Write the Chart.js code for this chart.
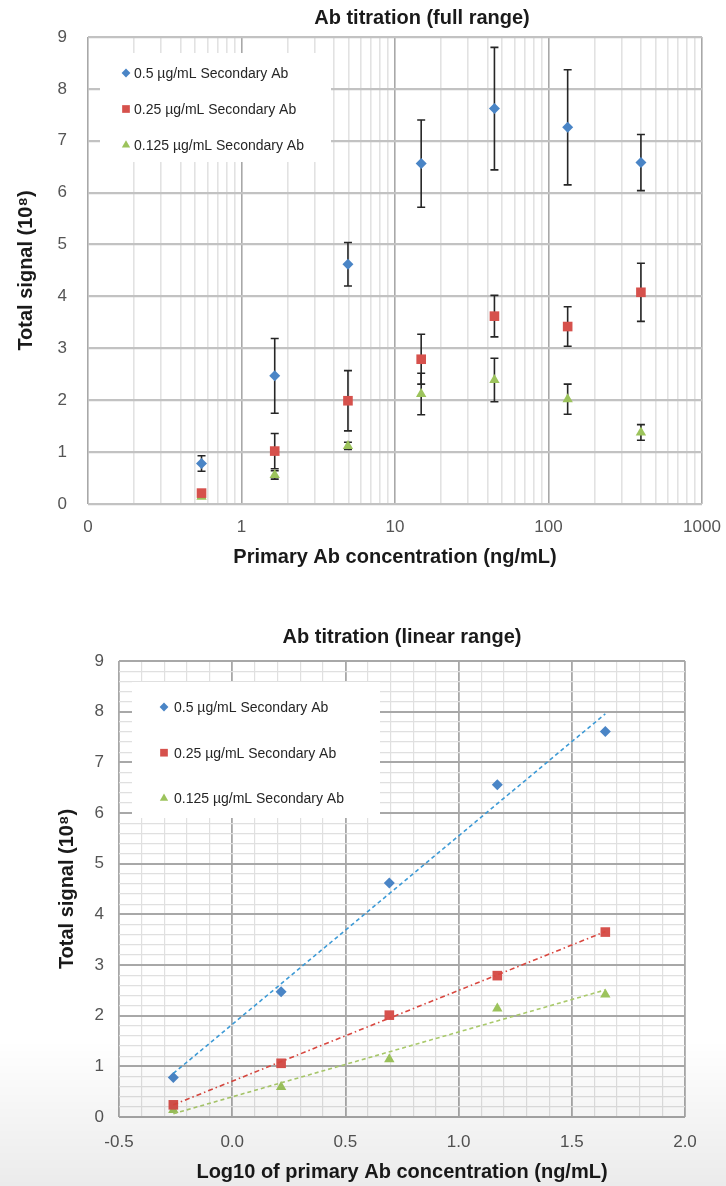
<!DOCTYPE html>
<html>
<head>
<meta charset="utf-8">
<script src="https://cdn.jsdelivr.net/npm/chart.js"></script>
<style>
  html, body { margin: 0; padding: 0; background: #fff; }
  body { width: 726px; height: 1186px; position: relative; overflow: hidden; }
  canvas { position: absolute; left: 0; }
  #full { top: 0; }
  #linear { top: 600px; }
  #shade { position: absolute; left: 0; top: 0; width: 726px; height: 1186px; pointer-events: none;
    background: linear-gradient(to bottom, rgba(0,0,0,0) 0, rgba(0,0,0,0) 1040px, rgba(0,0,0,0.08) 1186px); }
</style>
</head>
<body>
<canvas id="full" width="726" height="580"></canvas>
<canvas id="linear" width="726" height="586"></canvas>
<div id="shade"></div>
<script>
// full range data (x in ng/mL, y in 10^8)
const concentrations = [0.549, 1.646, 4.938, 14.81, 44.44, 133.3, 400];
const signal05 = [0.78, 2.47, 4.62, 6.56, 7.62, 7.26, 6.58];
const error05 = [0.15, 0.72, 0.42, 0.84, 1.18, 1.11, 0.54];
const signal025 = [0.21, 1.02, 1.99, 2.79, 3.62, 3.42, 4.08];
const error025 = [0.05, 0.34, 0.58, 0.48, 0.40, 0.38, 0.56];
const signal0125 = [0.14, 0.56, 1.12, 2.12, 2.39, 2.02, 1.38];
const error0125 = [0.03, 0.08, 0.07, 0.40, 0.42, 0.29, 0.15];

// linear range data (x = log10 of concentration)
const logConc = [-0.26, 0.216, 0.694, 1.171, 1.648];
const linear05 = [0.78, 2.47, 4.62, 6.56, 7.61];
const linear025 = [0.24, 1.06, 2.01, 2.79, 3.65];
const linear0125 = [0.14, 0.59, 1.14, 2.14, 2.42];

const seriesNames = ['0.5 µg/mL Secondary Ab', '0.25 µg/mL Secondary Ab', '0.125 µg/mL Secondary Ab'];
const logTickValues = [0.1, 1, 10, 100, 1000];
const logTickLabels = ['0', '1', '10', '100', '1000'];
const linTickValues = [-0.5, 0, 0.5, 1, 1.5, 2];
const linTickLabels = ['-0.5', '0.0', '0.5', '1.0', '1.5', '2.0'];
const yTickLabels = ['0', '1', '2', '3', '4', '5', '6', '7', '8', '9'];

const FONT = "'Liberation Sans', Arial, sans-serif";
const BLUE = '#4a85c6', RED = '#d6514c', GREEN = '#9cc35c';
const TICK = '#555555', TEXT = '#1a1a1a';

const pts = (xs, ys) => xs.map((x, i) => ({ x: x, y: ys[i] }));
const onList = (v, list) => list.findIndex(t => Math.abs(t - v) < 1e-6);

function gridTicks(min, max, step) {
  const out = [];
  const n = Math.round((max - min) / step);
  for (let i = 0; i <= n; i++) out.push({ value: +(min + i * step).toFixed(6) });
  return out;
}
function logGridTicks(min, max) {
  const out = [];
  for (let d = min; d < max * 0.999; d *= 10) {
    for (let m = 1; m < 10; m++) out.push({ value: +(m * d).toPrecision(6) });
  }
  out.push({ value: max });
  return out;
}
// least squares trendline across the data's x range
function fitLine(xs, ys) {
  const n = xs.length;
  const mx = xs.reduce((a, b) => a + b, 0) / n;
  const my = ys.reduce((a, b) => a + b, 0) / n;
  let sxy = 0, sxx = 0;
  xs.forEach((x, i) => { sxy += (x - mx) * (ys[i] - my); sxx += (x - mx) * (x - mx); });
  const k = sxy / sxx;
  const x0 = Math.min(...xs), x1 = Math.max(...xs);
  return [{ x: x0, y: my + k * (x0 - mx) }, { x: x1, y: my + k * (x1 - mx) }];
}

const errorBars = {
  id: 'errorBars',
  beforeDatasetsDraw(chart) {
    const { ctx, scales: { x, y } } = chart;
    ctx.save();
    ctx.strokeStyle = '#262626';
    ctx.lineWidth = 1.6;
    chart.data.datasets.forEach(ds => {
      if (!ds.errors) return;
      ds.data.forEach((p, i) => {
        const px = x.getPixelForValue(p.x);
        const top = y.getPixelForValue(p.y + ds.errors[i]);
        const bot = y.getPixelForValue(p.y - ds.errors[i]);
        ctx.beginPath();
        ctx.moveTo(px, top); ctx.lineTo(px, bot);
        ctx.moveTo(px - 4, top); ctx.lineTo(px + 4, top);
        ctx.moveTo(px - 4, bot); ctx.lineTo(px + 4, bot);
        ctx.stroke();
      });
    });
    ctx.restore();
  }
};

const insideLegend = {
  id: 'insideLegend',
  beforeDatasetsDraw(chart, args, o) {
    const { ctx, chartArea } = chart;
    const left = chartArea.left + o.left, top = chartArea.top + o.top;
    ctx.save();
    ctx.fillStyle = '#ffffff';
    ctx.fillRect(left, top, o.width, o.height);
    ctx.font = '14px ' + FONT;
    ctx.textBaseline = 'middle';
    let row = 0;
    chart.data.datasets.forEach(ds => {
      if (ds.type === 'line') return;
      const cy = chartArea.top + o.firstY + row * o.spacing;
      ctx.fillStyle = ds.backgroundColor;
      Chart.helpers.drawPoint(ctx, { pointStyle: ds.pointStyle, radius: ds.pointRadius * 0.8, rotation: 0, borderWidth: 0 },
        chartArea.left + o.markerX, cy);
      ctx.fillStyle = '#262626';
      ctx.fillText(ds.label, chartArea.left + o.textX, cy + 1);
      row++;
    });
    ctx.restore();
  }
};

// nudge the chart title sideways, like the hand-placed title in the original
const titleShift = {
  id: 'titleShift',
  afterLayout(chart, args, o) {
    const t = chart.titleBlock;
    if (t && o.dx) { t.left += o.dx; t.right += o.dx; }
  }
};

const titleFont = { family: FONT, size: 20, weight: 'bold' };
const tickFont = { family: FONT, size: 17 };

new Chart(document.getElementById('full'), {
  type: 'scatter',
  data: {
    datasets: [
      { label: seriesNames[0], data: pts(concentrations, signal05), errors: error05,
        pointStyle: 'rectRot', pointRadius: 5.5, backgroundColor: BLUE, borderWidth: 0 },
      { label: seriesNames[1], data: pts(concentrations, signal025), errors: error025,
        pointStyle: 'rect', pointRadius: 6.8, backgroundColor: RED, borderWidth: 0 },
      { label: seriesNames[2], data: pts(concentrations, signal0125), errors: error0125,
        pointStyle: 'triangle', pointRadius: 6, backgroundColor: GREEN, borderWidth: 0 }
    ]
  },
  options: {
    responsive: false,
    animation: false,
    devicePixelRatio: 1,
    layout: { padding: { left: 0, right: 24, top: 0, bottom: 6 } },
    plugins: {
      legend: { display: false },
      tooltip: { enabled: false },
      title: { display: true, fullSize: false, text: 'Ab titration (full range)', color: TEXT, font: titleFont,
        padding: { top: 6, bottom: 7 } },
      titleShift: { dx: 27 },
      insideLegend: { left: 12, top: 16, width: 231, height: 109, markerX: 38, textX: 46, firstY: 36, spacing: 36 }
    },
    scales: {
      x: {
        type: 'logarithmic', min: 0.1, max: 1000,
        afterBuildTicks: s => { s.ticks = logGridTicks(0.1, 1000); },
        afterFit: s => { s.height = 70; s.paddingLeft = 0; s.paddingRight = 0; },
        ticks: { autoSkip: false, maxRotation: 0, padding: 13, color: TICK, font: tickFont,
          callback: v => { const i = onList(v, logTickValues); return i < 0 ? '' : logTickLabels[i]; } },
        grid: { drawTicks: false,
          color: c => onList(c.tick.value, logTickValues) >= 0 ? '#a8a8a8' : '#e2e2e2',
          lineWidth: 1.6 },
        border: { display: false },
        title: { display: true, text: 'Primary Ab concentration (ng/mL)', color: TEXT, font: titleFont,
          padding: { top: 0, bottom: 5 } }
      },
      y: {
        min: 0, max: 9,
        afterBuildTicks: s => { s.ticks = gridTicks(0, 9, 1); },
        afterFit: s => { s.width = 88; },
        ticks: { padding: 21, color: TICK, font: tickFont, callback: v => yTickLabels[Math.round(v)] },
        grid: { drawTicks: false, color: '#c2c2c2', lineWidth: 2.2 },
        border: { display: false },
        title: { display: true, text: 'Total signal (10⁸)', color: TEXT, font: titleFont,
          padding: { top: 14, bottom: 0 } }
      }
    }
  },
  plugins: [errorBars, insideLegend, titleShift]
});

new Chart(document.getElementById('linear'), {
  type: 'scatter',
  data: {
    datasets: [
      { type: 'line', data: fitLine(logConc, linear05), borderColor: '#3d9ad6', borderWidth: 1.6,
        borderDash: [4, 3], pointRadius: 0, fill: false },
      { type: 'line', data: fitLine(logConc, linear025), borderColor: '#d9473f', borderWidth: 1.6,
        borderDash: [5, 3, 1.5, 3], pointRadius: 0, fill: false },
      { type: 'line', data: fitLine(logConc, linear0125), borderColor: '#a9c96b', borderWidth: 1.6,
        borderDash: [4, 3], pointRadius: 0, fill: false },
      { label: seriesNames[0], data: pts(logConc, linear05),
        pointStyle: 'rectRot', pointRadius: 5.5, backgroundColor: BLUE, borderWidth: 0 },
      { label: seriesNames[1], data: pts(logConc, linear025),
        pointStyle: 'rect', pointRadius: 6.8, backgroundColor: RED, borderWidth: 0 },
      { label: seriesNames[2], data: pts(logConc, linear0125),
        pointStyle: 'triangle', pointRadius: 6, backgroundColor: GREEN, borderWidth: 0 }
    ]
  },
  options: {
    responsive: false,
    animation: false,
    devicePixelRatio: 1,
    layout: { padding: { left: 0, right: 41, top: 0, bottom: 0 } },
    plugins: {
      legend: { display: false },
      tooltip: { enabled: false },
      title: { display: true, fullSize: false, text: 'Ab titration (linear range)', color: TEXT, font: titleFont,
        padding: { top: 25, bottom: 12 } },
      insideLegend: { left: 13, top: 21, width: 248, height: 136, markerX: 45, textX: 55, firstY: 46, spacing: 45.7 }
    },
    scales: {
      x: {
        type: 'linear', min: -0.5, max: 2,
        afterBuildTicks: s => { s.ticks = gridTicks(-0.5, 2, 0.1); },
        afterFit: s => { s.height = 69; },
        ticks: { autoSkip: false, maxRotation: 0, padding: 15, color: TICK, font: tickFont,
          callback: v => { const i = onList(v, linTickValues); return i < 0 ? '' : linTickLabels[i]; } },
        grid: { drawTicks: false,
          color: c => onList(c.tick.value, linTickValues) >= 0 ? '#a8a8a8' : '#e0e0e0',
          lineWidth: c => onList(c.tick.value, linTickValues) >= 0 ? 1.8 : 1.2 },
        border: { display: false },
        title: { display: true, text: 'Log10 of primary Ab concentration (ng/mL)', color: TEXT, font: titleFont,
          padding: { top: 0, bottom: 2 } }
      },
      y: {
        min: 0, max: 9,
        afterBuildTicks: s => { s.ticks = gridTicks(0, 9, 0.2); },
        afterFit: s => { s.width = 119; },
        ticks: { autoSkip: false, padding: 15, color: TICK, font: tickFont,
          callback: v => Math.abs(v - Math.round(v)) < 1e-6 ? yTickLabels[Math.round(v)] : '' },
        grid: { drawTicks: false,
          color: c => Math.abs(c.tick.value - Math.round(c.tick.value)) < 1e-6 ? '#a8a8a8' : '#e0e0e0',
          lineWidth: c => Math.abs(c.tick.value - Math.round(c.tick.value)) < 1e-6 ? 2 : 1.2 },
        border: { display: false },
        title: { display: true, text: 'Total signal (10⁸)', color: TEXT, font: titleFont,
          padding: { top: 55, bottom: 0 } }
      }
    }
  },
  plugins: [insideLegend]
});
</script>
</body>
</html>
